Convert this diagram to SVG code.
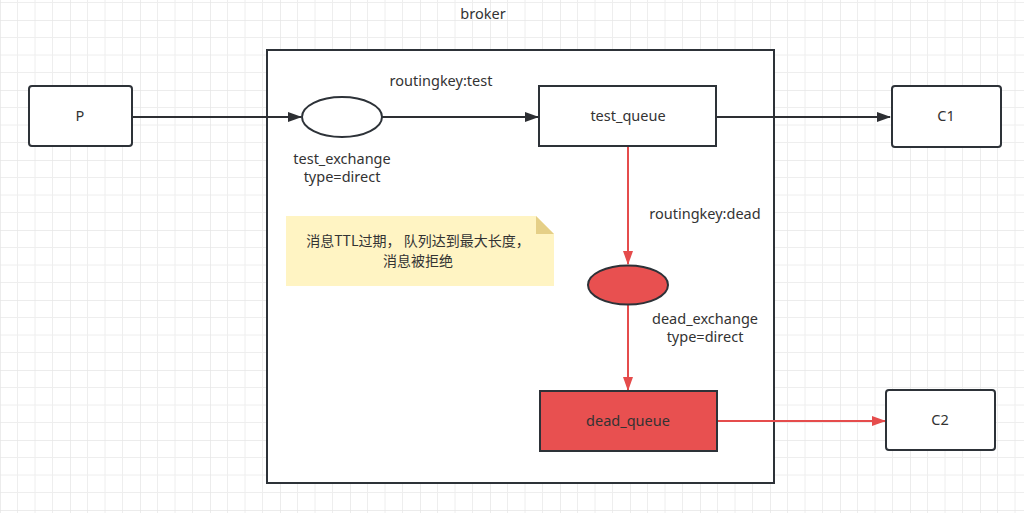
<svg xmlns="http://www.w3.org/2000/svg" width="1024" height="513" viewBox="0 0 1024 513">
<defs>
<pattern id="g" x="0" y="20" width="70" height="70" patternUnits="userSpaceOnUse">
<path d="M17.5 0V70M35 0V70M52.5 0V70M0 17.5H70M0 35H70M0 52.5H70" stroke="#eeeeee" stroke-width="1" fill="none"/>
<path d="M0 0V70M0 0H70" stroke="#e6e6e6" stroke-width="1.5" fill="none"/>
</pattern>
<marker id="ak" markerWidth="14" markerHeight="10" refX="13" refY="5" orient="auto" markerUnits="userSpaceOnUse"><path d="M0 0L14 5L0 10Z" fill="#2d2f33"/></marker>
<marker id="ar" markerWidth="14" markerHeight="10" refX="13" refY="5" orient="auto" markerUnits="userSpaceOnUse"><path d="M0 0L14 5L0 10Z" fill="#e54c4c"/></marker>
<style>
text{font-family:"Noto Sans","Noto Sans CJK SC",sans-serif;font-size:14.5px;fill:#333;text-anchor:middle}
.cn{font-family:"Noto Sans CJK SC",sans-serif;font-size:14px}
.box{fill:#fff;stroke:#2d3238;stroke-width:2}
.red{fill:#e85050;stroke:#2d3238;stroke-width:2}
.lk{stroke:#2d2f33;stroke-width:2;fill:none}
.lr{stroke:#e54c4c;stroke-width:2;fill:none}
</style>
</defs>
<rect width="1024" height="513" fill="#fff"/>
<rect width="1024" height="513" fill="url(#g)"/>
<g id="broker">
<rect x="267" y="50" width="507" height="433" class="box"/>
<text x="483" y="19">broker</text>
</g>
<g id="connectors">
<path d="M132 117H301" class="lk" marker-end="url(#ak)"/>
<path d="M382 117H538" class="lk" marker-end="url(#ak)"/>
<path d="M716 117H890" class="lk" marker-end="url(#ak)"/>
<path d="M628 146V264" class="lr" marker-end="url(#ar)"/>
<path d="M628 304V390" class="lr" marker-end="url(#ar)"/>
<path d="M717 421H885" class="lr" marker-end="url(#ar)"/>
<text x="441" y="86">routingkey:test</text>
<text x="705" y="219">routingkey:dead</text>
</g>
<g id="P"><rect x="29" y="86" width="103" height="60" rx="3" class="box"/><text x="80" y="121">P</text></g>
<g id="test_exchange"><ellipse cx="342" cy="117" rx="40" ry="20" class="box"/><text x="342" y="164">test_exchange</text><text x="342" y="182">type=direct</text></g>
<g id="test_queue"><rect x="539" y="86" width="177" height="60" class="box"/><text x="628" y="121">test_queue</text></g>
<g id="C1"><rect x="892" y="86" width="109" height="61" rx="3" class="box"/><text x="946" y="121">C1</text></g>
<g id="note">
<path d="M286 216H536L554 234V286H286Z" fill="#fff4c3"/>
<path d="M536 216L554 234H536Z" fill="#e5cf87"/>
<text class="cn" x="418" y="246">消息TTL过期， 队列达到最大长度，</text>
<text class="cn" x="418" y="266">消息被拒绝</text>
</g>
<g id="dead_exchange"><ellipse cx="628" cy="285" rx="40" ry="19.5" class="red"/><text x="705" y="324">dead_exchange</text><text x="705" y="342">type=direct</text></g>
<g id="dead_queue"><rect x="540" y="391" width="177" height="60" class="red"/><text x="628" y="426">dead_queue</text></g>
<g id="C2"><rect x="886" y="390" width="109" height="60" rx="3" class="box"/><text x="940" y="425">C2</text></g>
</svg>
